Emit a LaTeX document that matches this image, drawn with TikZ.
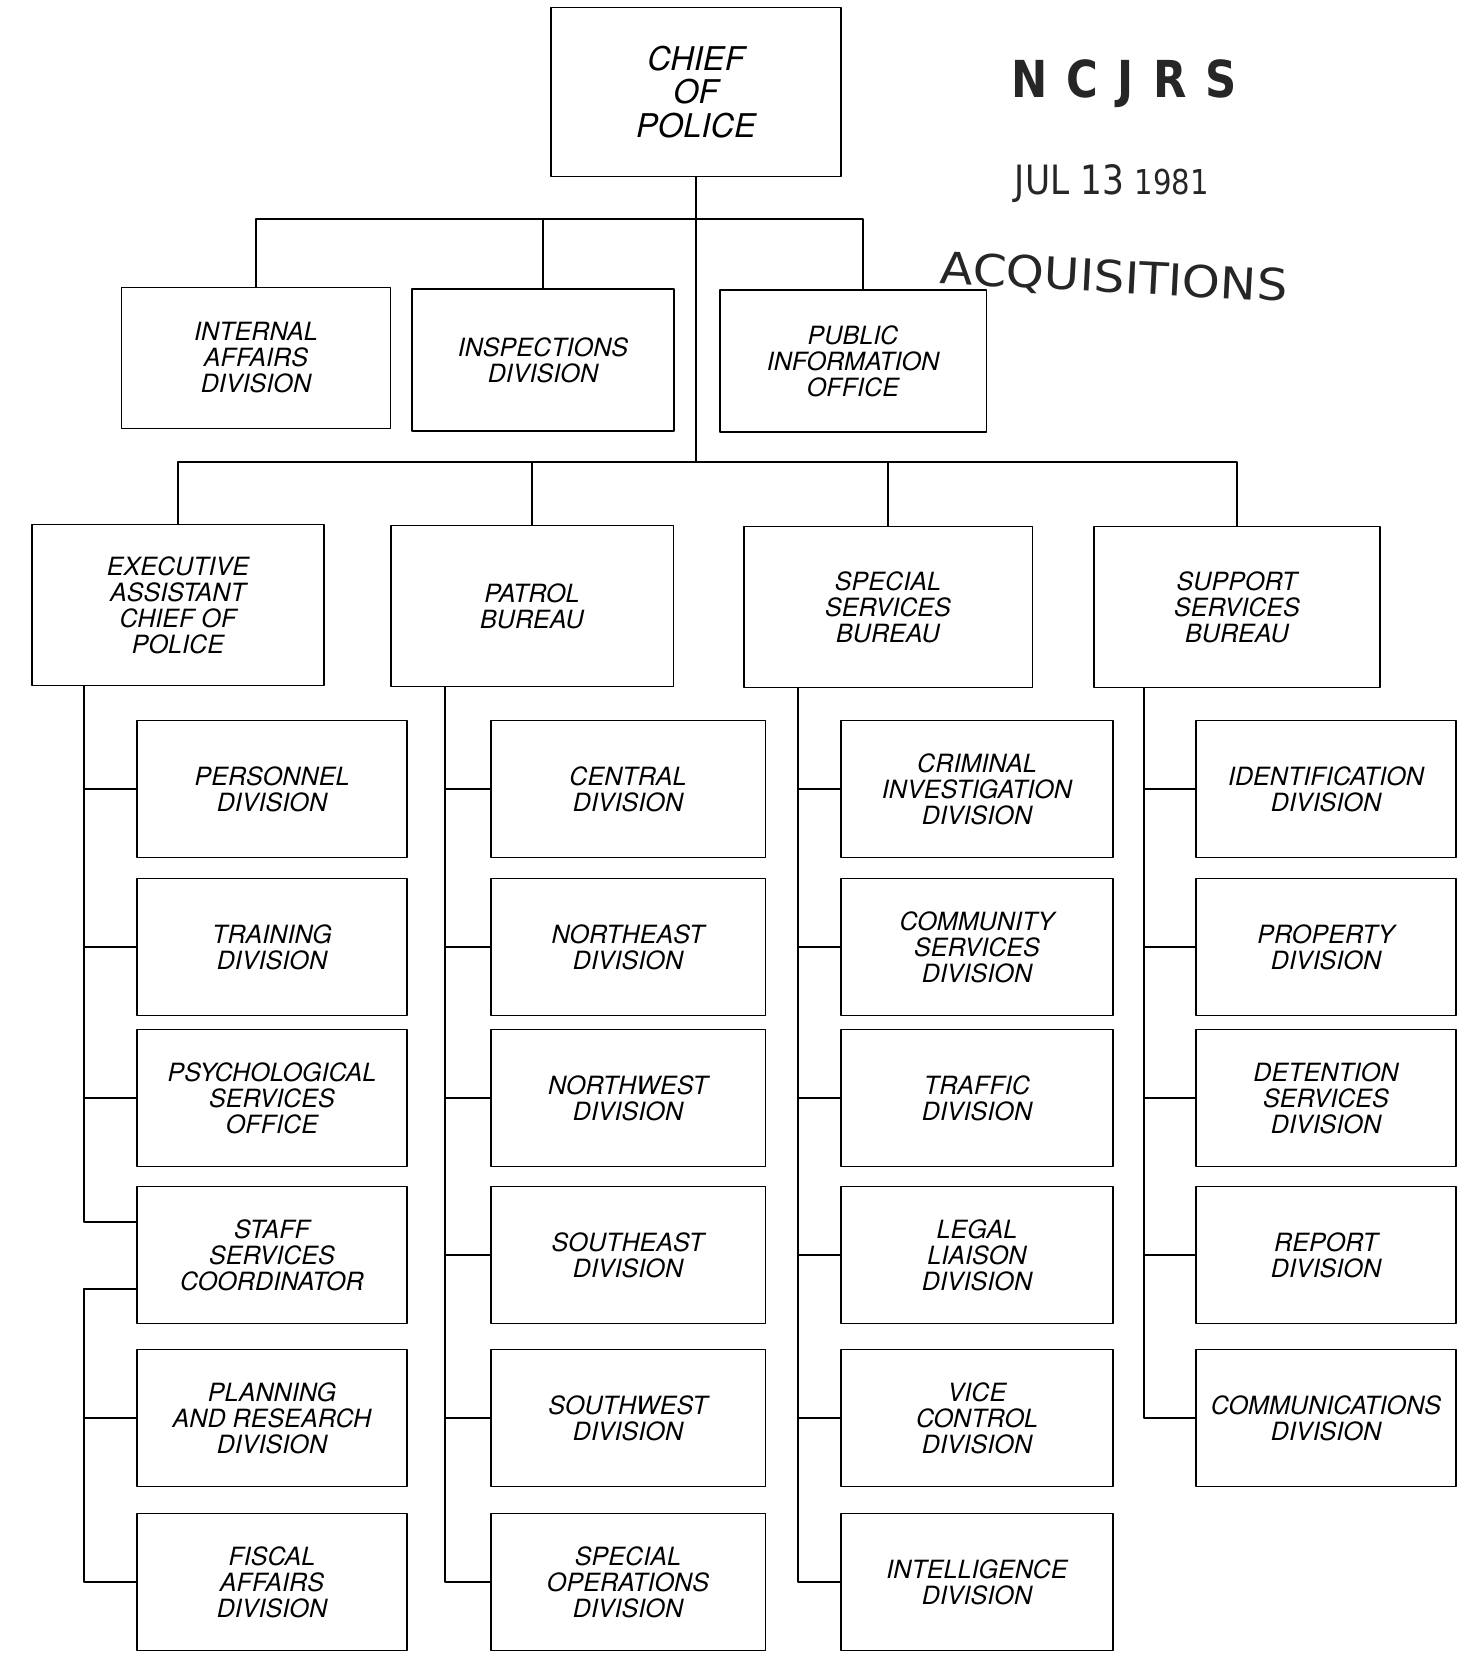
\documentclass[tikz,border=0pt]{standalone}
\usepackage{fontspec}
\setmainfont{TeX Gyre Heros}
\newfontfamily\stampfont[FakeStretch=0.85]{DejaVu Sans}
\newfontfamily\stampwide[FakeStretch=1.1]{DejaVu Sans}
\usetikzlibrary{calc}

\newcommand{\boxfont}{\fontsize{14.3}{14.8}\selectfont\itshape}
\newcommand{\chieffont}{\fontsize{18.6}{19.3}\selectfont\itshape}

\tikzset{
  unit/.style={draw, line width=1.1pt, align=center, inner sep=0pt, font=\boxfont},
  colA/.style={unit, minimum width=5.4cm, minimum height=2.74cm},
  colB/.style={unit, minimum width=5.5cm, minimum height=2.74cm},
  colC/.style={unit, minimum width=5.44cm, minimum height=2.74cm},
  colD/.style={unit, minimum width=5.2cm, minimum height=2.74cm},
  stamp/.style={text=black!85, inner sep=0pt}
}

\begin{document}
\begin{tikzpicture}[line cap=round,line join=round,x=0.02cm,y=-0.02cm]
\fill[white] (0,0) rectangle (1470,1659);
\useasboundingbox (0,0) rectangle (1470,1659);

% chief and staff offices
\node[unit, font=\chieffont, minimum width=5.8cm, minimum height=3.38cm] (chief) at (696,92) {CHIEF\\OF\\POLICE};
\node[unit, minimum width=5.38cm, minimum height=2.82cm] (internal) at (256,358) {INTERNAL\\AFFAIRS\\DIVISION};
\node[unit, minimum width=5.24cm, minimum height=2.84cm] (inspect) at (543,360) {INSPECTIONS\\DIVISION};
\node[unit, minimum width=5.34cm, minimum height=2.84cm] (pio) at (853,361) {PUBLIC\\INFORMATION\\OFFICE};

% bureaus
\node[unit, minimum width=5.84cm, minimum height=3.22cm] (exec) at (178,605) {EXECUTIVE\\ASSISTANT\\CHIEF OF\\POLICE};
\node[unit, minimum width=5.66cm, minimum height=3.22cm] (patrol) at (532,606) {PATROL\\BUREAU};
\node[unit, minimum width=5.78cm, minimum height=3.22cm] (special) at (888,607) {SPECIAL\\SERVICES\\BUREAU};
\node[unit, minimum width=5.72cm, minimum height=3.22cm] (support) at (1237,607) {SUPPORT\\SERVICES\\BUREAU};

% executive assistant column
\node[colA] (personnel) at (272,789) {PERSONNEL\\DIVISION};
\node[colA] (training) at (272,947) {TRAINING\\DIVISION};
\node[colA] (psych) at (272,1098) {PSYCHOLOGICAL\\SERVICES\\OFFICE};
\node[colA] (staff) at (272,1255) {STAFF\\SERVICES\\COORDINATOR};
\node[colA] (planning) at (272,1418) {PLANNING\\AND RESEARCH\\DIVISION};
\node[colA] (fiscal) at (272,1582) {FISCAL\\AFFAIRS\\DIVISION};

% patrol column
\node[colB] (central) at (628,789) {CENTRAL\\DIVISION};
\node[colB] (northeast) at (628,947) {NORTHEAST\\DIVISION};
\node[colB] (northwest) at (628,1098) {NORTHWEST\\DIVISION};
\node[colB] (southeast) at (628,1255) {SOUTHEAST\\DIVISION};
\node[colB] (southwest) at (628,1418) {SOUTHWEST\\DIVISION};
\node[colB] (specops) at (628,1582) {SPECIAL\\OPERATIONS\\DIVISION};

% special services column
\node[colC] (criminal) at (977,789) {CRIMINAL\\INVESTIGATION\\DIVISION};
\node[colC] (community) at (977,947) {COMMUNITY\\SERVICES\\DIVISION};
\node[colC] (traffic) at (977,1098) {TRAFFIC\\DIVISION};
\node[colC] (legal) at (977,1255) {LEGAL\\LIAISON\\DIVISION};
\node[colC] (vice) at (977,1418) {VICE\\CONTROL\\DIVISION};
\node[colC] (intel) at (977,1582) {INTELLIGENCE\\DIVISION};

% support services column
\node[colD] (ident) at (1326,789) {IDENTIFICATION\\DIVISION};
\node[colD] (property) at (1326,947) {PROPERTY\\DIVISION};
\node[colD] (detention) at (1326,1098) {DETENTION\\SERVICES\\DIVISION};
\node[colD] (report) at (1326,1255) {REPORT\\DIVISION};
\node[colD] (comms) at (1326,1418) {COMMUNICATIONS\\DIVISION};

% connectors
\begin{scope}[line width=1.1pt]
\coordinate (busA) at (696,219);
\coordinate (busB) at (696,462);
\draw (chief.south) -- (busB);
\draw (internal.north) |- (busA) -| ($(pio.north)+(10,0)$);
\draw (inspect.north) -- (inspect.north |- busA);
\draw (exec.north) |- (busB) -| (support.north);
\draw (patrol.north) -- (patrol.north |- busB);
\draw (special.north) -- (special.north |- busB);

\coordinate (spineA) at ($(exec.south west)+(53,0)$);
\coordinate (spineB) at ($(patrol.south west)+(55,0)$);
\coordinate (spineC) at ($(special.south west)+(55,0)$);
\coordinate (spineD) at ($(support.south west)+(51,0)$);
\foreach \n in {personnel,training,psych}
  \draw (spineA) |- (\n.west);
\draw (spineA) |- ($(staff.west)+(0,-33)$);
\coordinate (spineAb) at ($(staff.west)+(-52,34)$);
\draw ($(staff.west)+(0,34)$) -- (spineAb);
\foreach \n in {planning,fiscal}
  \draw (spineAb) |- (\n.west);
\foreach \n in {central,northeast,northwest,southeast,southwest,specops}
  \draw (spineB) |- (\n.west);
\foreach \n in {criminal,community,traffic,legal,vice,intel}
  \draw (spineC) |- (\n.west);
\foreach \n in {ident,property,detention,report,comms}
  \draw (spineD) |- (\n.west);
\end{scope}

% receiving stamp
\node[stamp, font=\stampfont\bfseries\fontsize{29}{29}\selectfont] (ncjrs) at (1124,84) {N\kern11pt C\kern11pt J\kern11pt R\kern11pt S};
\node[stamp, font=\stampfont\fontsize{23}{23}\selectfont] (date) at (1112,184) {JUL 13 {\fontsize{19.5}{19.5}\selectfont 1981}};
\node[stamp, font=\stampwide\fontsize{25}{25}\selectfont, rotate=-3] (acq) at (1114,279) {ACQUISITIONS};
\end{tikzpicture}
\end{document}
